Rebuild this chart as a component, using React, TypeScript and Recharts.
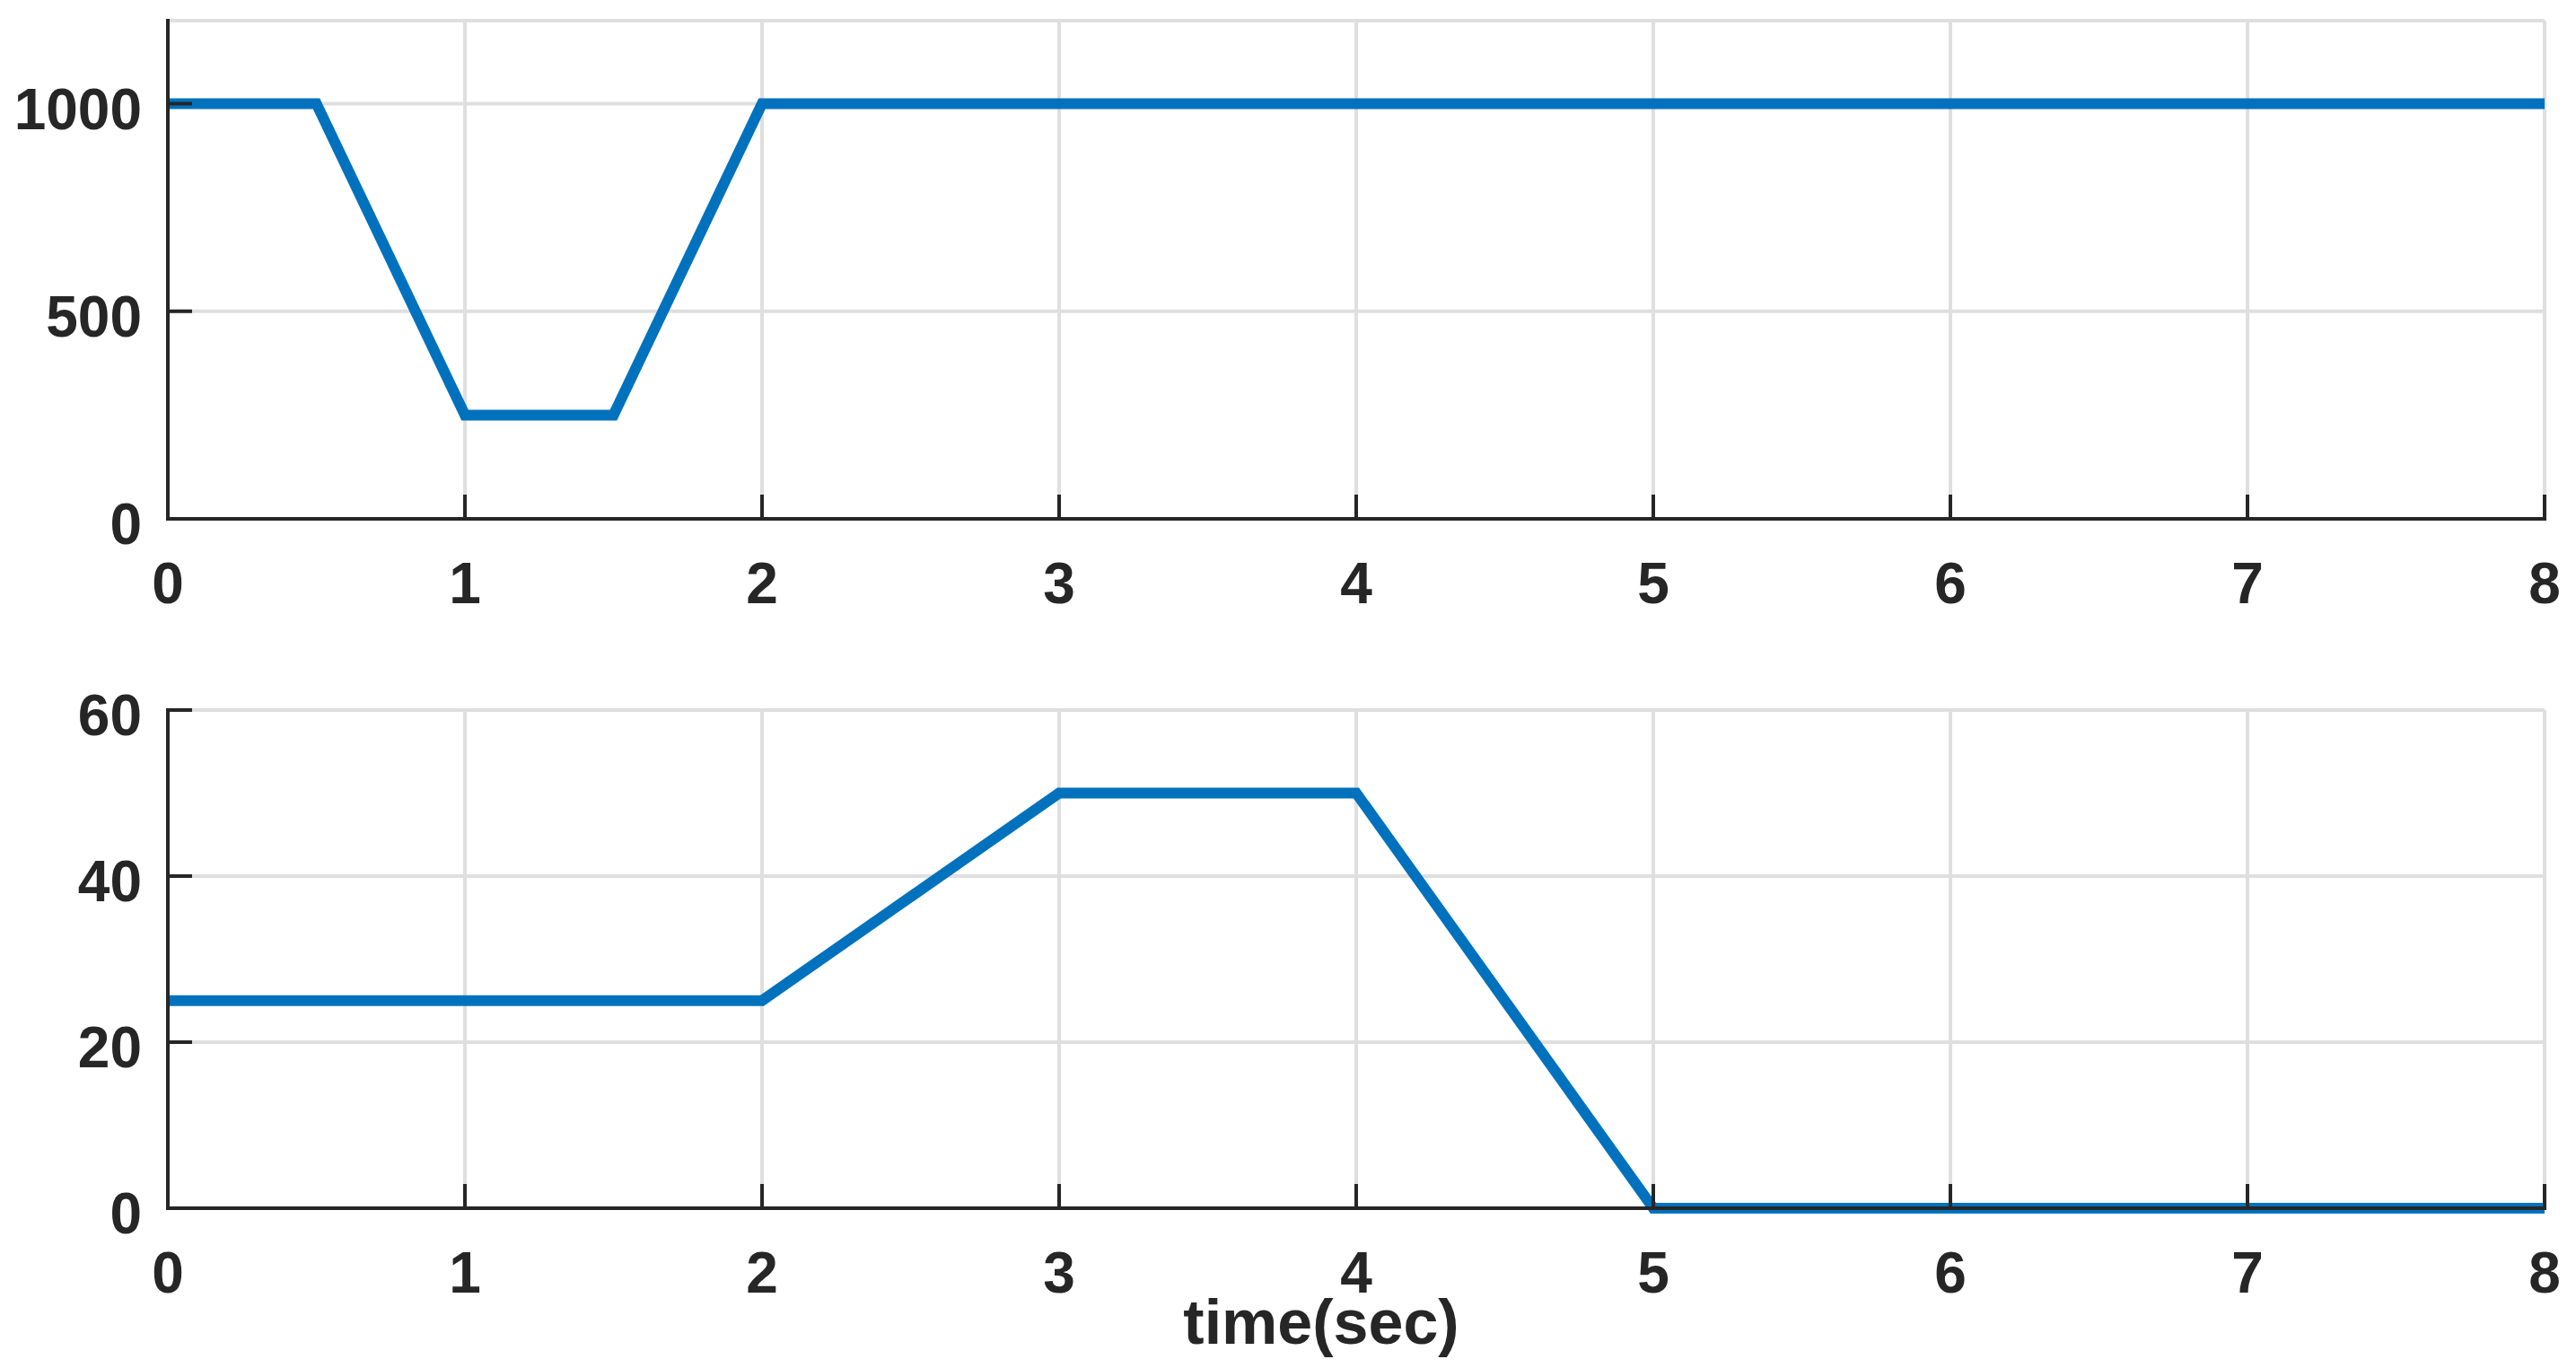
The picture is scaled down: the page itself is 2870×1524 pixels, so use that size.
import { CartesianGrid, Line, LineChart, XAxis, YAxis } from "recharts";

// time axis (sec)
const timeTicks = [0, 1, 2, 3, 4, 5, 6, 7, 8];

// upper panel
const speedTime = [0, 0.5, 1, 1.5, 2, 8];
const speedValues = [1000, 1000, 250, 250, 1000, 1000];
const speedTicks = [0, 500, 1000];

// lower panel
const loadTime = [0, 2, 3, 4, 5, 8];
const loadValues = [25, 25, 50, 50, 0, 0];
const loadTicks = [0, 20, 40, 60];

const speedData = speedTime.map((t, i) => ({ t, v: speedValues[i] }));
const loadData = loadTime.map((t, i) => ({ t, v: loadValues[i] }));

const INK = "#262626";
const BLUE = "#0072BD";
const GRID = "#dfdfdf";
const FONT = "'Liberation Sans', Arial, Helvetica, sans-serif";
const TICK_LEN = 27;

const axisStroke = { stroke: INK, strokeWidth: 4, strokeLinecap: "square" as const };
const tickStroke = { stroke: INK, strokeWidth: 4 };

const noTick = () => <g />;

const XTick = ({ x, y, payload }: any) => (
  <text
    x={x}
    y={y + 46}
    textAnchor="middle"
    fontFamily={FONT}
    fontWeight={700}
    fontSize={64}
    fill={INK}
  >
    {payload.value}
  </text>
);

const YTick = ({ x, y, payload }: any) => (
  <text
    x={x}
    y={y + 28}
    textAnchor="end"
    fontFamily={FONT}
    fontWeight={700}
    fontSize={64}
    fill={INK}
  >
    {payload.value}
  </text>
);

const TimeLabel = ({ viewBox }: any) => (
  <text
    x={viewBox.x + viewBox.width / 2 - 39}
    y={viewBox.y + 151}
    textAnchor="middle"
    fontFamily={FONT}
    fontWeight={700}
    fontSize={70}
    fill={INK}
  >
    time(sec)
  </text>
);

interface PanelProps {
  data: { t: number; v: number }[];
  yMax: number;
  yTicks: number[];
  height: number;
  top: number;
  xHeight: number;
  withLabel?: boolean;
}

const Panel = ({ data, yMax, yTicks, height, top, xHeight, withLabel }: PanelProps) => (
  <LineChart
    width={2870}
    height={height}
    data={data}
    margin={{ top, right: 35, bottom: 0, left: 0 }}
  >
    <CartesianGrid stroke={GRID} strokeWidth={4} />
    <XAxis
      dataKey="t"
      type="number"
      domain={[0, 8]}
      ticks={timeTicks}
      height={xHeight}
      axisLine={axisStroke}
      tickLine={tickStroke}
      tickSize={-TICK_LEN}
      tickMargin={48 + TICK_LEN}
      tick={XTick}
      interval={0}
      label={withLabel ? <TimeLabel /> : undefined}
    />
    <XAxis
      xAxisId="top"
      orientation="top"
      dataKey="t"
      type="number"
      domain={[0, 8]}
      ticks={timeTicks}
      height={0}
      axisLine={axisStroke}
      tickLine={tickStroke}
      tickSize={-TICK_LEN}
      tick={noTick}
      interval={0}
    />
    <YAxis
      type="number"
      domain={[0, yMax]}
      ticks={yTicks}
      width={187}
      axisLine={axisStroke}
      tickLine={tickStroke}
      tickSize={-TICK_LEN}
      tickMargin={187 + TICK_LEN - 158}
      tick={YTick}
      interval={0}
    />
    <YAxis
      yAxisId="right"
      orientation="right"
      type="number"
      domain={[0, yMax]}
      ticks={yTicks}
      width={0}
      axisLine={axisStroke}
      tickLine={tickStroke}
      tickSize={-TICK_LEN}
      tick={noTick}
      interval={0}
    />
    <Line
      type="linear"
      dataKey="v"
      stroke={BLUE}
      strokeWidth={12}
      dot={false}
      activeDot={false}
      isAnimationActive={false}
    />
  </LineChart>
);

export default function App() {
  return (
    <div
      style={{
        position: "absolute",
        left: 0,
        top: 0,
        width: 2870,
        height: 1524,
        background: "#fff",
      }}
    >
      <div style={{ position: "absolute", left: 0, top: 0 }}>
        <Panel data={speedData} yMax={1200} yTicks={speedTicks} height={700} top={23} xHeight={122} />
      </div>
      <div style={{ position: "absolute", left: 0, top: 700 }}>
        <Panel
          data={loadData}
          yMax={60}
          yTicks={loadTicks}
          height={824}
          top={91}
          xHeight={178}
          withLabel
        />
      </div>
    </div>
  );
}
